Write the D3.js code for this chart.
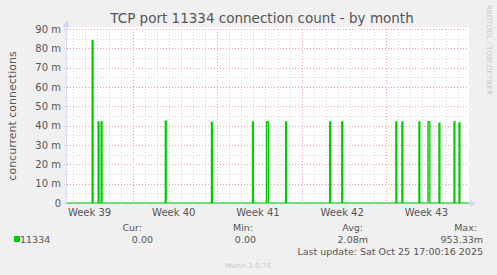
<!DOCTYPE html>
<html>
<head>
<meta charset="utf-8">
<script src="https://cdn.jsdelivr.net/npm/d3@7"></script>
<style>
  body { margin: 0; background: #f0f0f0; }
  svg { display: block; font-family: "DejaVu Sans", sans-serif; }
</style>
</head>
<body>
<svg id="chart" width="497" height="275"></svg>
<script>
// spikes: start of 2h sample, value (milli-connections), number of 2h samples
var spikeTimes = ['2025-09-25T14:00', '2025-09-26T02:00', '2025-09-26T08:00', '2025-10-01T16:00',
                  '2025-10-05T12:00', '2025-10-08T22:00', '2025-10-10T02:00', '2025-10-11T16:00',
                  '2025-10-15T08:00', '2025-10-16T08:00', '2025-10-20T20:00', '2025-10-21T08:00',
                  '2025-10-22T18:00', '2025-10-23T12:00', '2025-10-24T10:00', '2025-10-25T16:00',
                  '2025-10-26T02:00'];
var spikeValues = [84, 42, 42, 42.4, 41.7, 42, 42, 42, 42, 42, 42, 42, 42, 42, 41.3, 42, 41.5];
var spikeSteps = [1, 1, 1, 1, 1, 1, 2, 1, 1, 1, 1, 1, 1, 2, 1, 1, 1];

var weekStarts = ['2025-09-29', '2025-10-06', '2025-10-13', '2025-10-20'];
var weekLabels = ['Week 39', 'Week 40', 'Week 41', 'Week 42', 'Week 43'];
var yTicks = [0, 10, 20, 30, 40, 50, 60, 70, 80, 90];

var legendHeads = ['Cur:', 'Min:', 'Avg:', 'Max:'];
var legendValues = ['0.00', '0.00', '2.08m', '953.33m'];

var parse = d3.timeParse('%Y-%m-%dT%H:%M');
var parseDay = d3.timeParse('%Y-%m-%d');
var HOUR = 3600 * 1000;
var start = parse('2025-09-23T12:00');
var end = new Date(start.getTime() + 401 * 2 * HOUR);

var svg = d3.select('#chart');
var pLeft = 67, pRight = 469, pTop = 29, pBottom = 203;

var x = d3.scaleTime().domain([start, end]).range([pLeft, pRight]);
var y = d3.scaleLinear().domain([0, 90]).range([pBottom, pTop]);

// canvas
svg.append('rect').attr('x', pLeft).attr('y', pTop - 2).attr('width', pRight - pLeft).attr('height', pBottom - pTop + 2)
    .attr('fill', '#fff');

// minor grid: days + 5m
var days = d3.timeDay.range(d3.timeDay.ceil(start), end);
var grid = svg.append('g').attr('stroke-dasharray', '1,2').attr('fill', 'none');
grid.selectAll('line.vd').data(days.filter(function(d) { return d.getDay() !== 1; }))
    .enter().append('line')
    .attr('x1', function(d) { return Math.round(x(d)) + 0.5; })
    .attr('x2', function(d) { return Math.round(x(d)) + 0.5; })
    .attr('y1', pTop).attr('y2', pBottom)
    .attr('stroke', '#d4d4d4');
grid.selectAll('line.hm').data(d3.range(5, 90, 10))
    .enter().append('line')
    .attr('x1', pLeft).attr('x2', pRight)
    .attr('y1', function(d) { return Math.round(y(d)) + 0.5; })
    .attr('y2', function(d) { return Math.round(y(d)) + 0.5; })
    .attr('stroke', '#d4d4d4');
// major grid
grid.selectAll('line.vw').data(weekStarts.map(parseDay))
    .enter().append('line')
    .attr('x1', function(d) { return Math.round(x(d)) + 0.5; })
    .attr('x2', function(d) { return Math.round(x(d)) + 0.5; })
    .attr('y1', pTop).attr('y2', pBottom + 3)
    .attr('stroke', '#eaa0a0');
grid.selectAll('line.hy').data(yTicks.slice(1))
    .enter().append('line')
    .attr('x1', pLeft - 3).attr('x2', pRight)
    .attr('y1', function(d) { return Math.round(y(d)) + 0.5; })
    .attr('y2', function(d) { return Math.round(y(d)) + 0.5; })
    .attr('stroke', '#eaa0a0');

// axes via d3
var yAxis = d3.axisLeft(y).tickValues(yTicks).tickSize(0).tickPadding(6)
    .tickFormat(function(d) { return d === 0 ? '0' : d + ' m'; });
svg.append('g').attr('transform', 'translate(' + pLeft + ',0)').call(yAxis)
    .call(function(g) { g.select('.domain').remove(); })
    .selectAll('text').attr('fill', '#555').attr('font-size', 10).attr('font-family', 'DejaVu Sans');

var weekMid = weekStarts.map(parseDay);
weekMid.unshift(d3.timeDay.offset(weekMid[0], -7));
var xAxis = d3.axisBottom(x).tickValues(weekMid.map(function(d) { return d3.timeHour.offset(d, 80); }))
    .tickSize(0).tickPadding(6)
    .tickFormat(function(d, i) { return weekLabels[i]; });
svg.append('g').attr('transform', 'translate(0,' + pBottom + ')').call(xAxis)
    .call(function(g) { g.select('.domain').remove(); })
    .selectAll('text').attr('fill', '#555').attr('font-size', 10).attr('font-family', 'DejaVu Sans');

// axis lines + arrows
var axisCol = '#cfd6f8';
svg.append('line').attr('x1', pLeft - 0.5).attr('x2', pLeft - 0.5).attr('y1', pBottom).attr('y2', pTop - 6)
    .attr('stroke', axisCol);
svg.append('path').attr('d', 'M' + (pLeft - 4) + ',' + (pTop - 2) + 'L' + (pLeft - 0.5) + ',' + (pTop - 9) +
    'L' + (pLeft + 3) + ',' + (pTop - 2) + 'Z').attr('fill', axisCol);
svg.append('line').attr('x1', pLeft - 3).attr('x2', pRight + 2).attr('y1', pBottom + 0.5).attr('y2', pBottom + 0.5)
    .attr('stroke', axisCol);
svg.append('path').attr('d', 'M' + (pRight + 1) + ',' + (pBottom - 3) + 'L' + (pRight + 7) + ',' + (pBottom + 0.5) +
    'L' + (pRight + 1) + ',' + (pBottom + 4) + 'Z').attr('fill', axisCol);

// data line
var pts = [[start, 0]];
spikeTimes.forEach(function(t, i) {
    var d = parse(t);
    pts.push([d, spikeValues[i]]);
    pts.push([new Date(d.getTime() + spikeSteps[i] * 2 * HOUR), 0]);
});
pts.push([end, 0]);
var area = d3.area().x(function(d) { return x(d[0]); }).y0(pBottom).y1(function(d) { return y(d[1]); })
    .curve(d3.curveStepAfter);
svg.append('path').datum(pts).attr('d', area)
    .attr('fill', '#00cc00').attr('fill-opacity', 0.45);
var line = d3.line().x(function(d) { return x(d[0]); }).y(function(d) { return y(d[1]); })
    .curve(d3.curveStepAfter);
svg.append('path').datum(pts).attr('d', line)
    .attr('fill', 'none').attr('stroke', '#00cc00').attr('stroke-width', 1.2);

// title and labels
svg.append('text').attr('x', 262).attr('y', 23).attr('text-anchor', 'middle')
    .attr('font-size', 13.5).attr('fill', '#555').text('TCP port 11334 connection count - by month');
svg.append('text').attr('transform', 'translate(16,116) rotate(-90)').attr('text-anchor', 'middle')
    .attr('font-size', 11).attr('fill', '#555').text('concurrent connections');
svg.append('text').attr('transform', 'translate(487,5) rotate(90)').attr('text-anchor', 'start')
    .attr('font-size', 7).attr('fill', '#c8c8c8').text('RRDTOOL / TOBI OETIKER');

// legend
var headX = [142, 253, 363, 477];
var valX = [153, 256, 368, 483];
svg.append('rect').attr('x', 14).attr('y', 236).attr('width', 6).attr('height', 6).attr('fill', '#00cc00');
svg.append('text').attr('x', 20).attr('y', 243).attr('font-size', 9.5).attr('fill', '#555').text('11334');
svg.selectAll('text.lh').data(legendHeads).enter().append('text')
    .attr('x', function(d, i) { return headX[i]; }).attr('y', 231)
    .attr('text-anchor', 'end').attr('font-size', 9.5).attr('fill', '#555').text(function(d) { return d; });
svg.selectAll('text.lv').data(legendValues).enter().append('text')
    .attr('x', function(d, i) { return valX[i]; }).attr('y', 243)
    .attr('text-anchor', 'end').attr('font-size', 9.5).attr('fill', '#555').text(function(d) { return d; });
svg.append('text').attr('x', 483).attr('y', 255).attr('text-anchor', 'end').attr('font-size', 9.5)
    .attr('fill', '#555').text('Last update: Sat Oct 25 17:00:16 2025');
svg.append('text').attr('x', 248).attr('y', 268).attr('text-anchor', 'middle').attr('font-size', 7)
    .attr('fill', '#c8c8c8').text('Munin 2.0.76');
</script>
</body>
</html>
